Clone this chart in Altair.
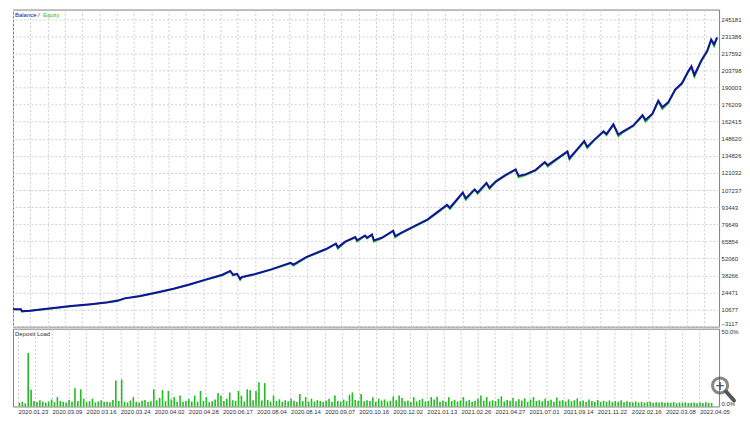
import altair as alt
import pandas as pd

# ---------------- data ----------------
trade_idx = [0, 16, 18, 34, 73, 117, 158, 192, 212, 226, 257, 291, 325, 357, 390, 424,
             440, 446, 454, 460, 463, 475, 489, 523, 562, 568, 594, 634, 654, 658, 673,
             693, 697, 713, 717, 727, 731, 747, 770, 774, 786, 812, 840, 860, 879, 885,
             911, 917, 935, 941, 959, 965, 978, 998, 1018, 1024, 1038, 1058, 1077, 1083,
             1097, 1123, 1127, 1143, 1157, 1163, 1176, 1196, 1202, 1216, 1226, 1236, 1256,
             1275, 1281, 1295, 1307, 1315, 1327, 1341, 1355, 1367, 1374, 1380, 1394, 1406,
             1414, 1420, 1426]
balance = [10941, 10941, 9380, 9770, 11488, 13518, 15079, 16641, 17968, 19764, 21638,
           24449, 27572, 31008, 34912, 38816, 41939, 38816, 39596, 35380, 36942, 38035,
           39284, 43188, 48419, 47092, 53104, 59585, 64035, 60912, 65597, 69267, 66612,
           70516, 68720, 71297, 66612, 68720, 74420, 70048, 72624, 77856, 83555, 89568,
           95267, 92925, 105184, 100499, 107760, 105184, 112992, 109088, 114243, 119472,
           123923, 118691, 119863, 123376, 129857, 127280, 131184, 138446, 132980, 140320,
           146800, 142115, 147347, 154608, 152500, 160308, 152032, 154608, 159293, 167648,
           163744, 168897, 179360, 174128, 178032, 188417, 193648, 202784, 207156, 200129,
           211841, 219649, 228784, 224880, 230580]
equity = [10941, 10700, 9100, 9650, 11300, 13300, 14900, 16400, 17500, 19600, 21300,
          24200, 27300, 30600, 34600, 38300, 41500, 38200, 39300, 34600, 36500, 37700,
          39000, 42800, 48000, 46000, 52700, 59100, 63700, 59800, 65200, 68700, 65600,
          70100, 67900, 70800, 65300, 68200, 73900, 68900, 72100, 77300, 83000, 88900,
          94700, 91800, 104600, 99200, 107200, 104000, 112400, 107900, 113700, 118900,
          123300, 117400, 119200, 122700, 129200, 126000, 130500, 137800, 131700, 139600,
          146100, 140900, 146700, 153900, 151300, 159600, 150600, 153900, 158600, 166900,
          162300, 168100, 178600, 172500, 177200, 187600, 192800, 202000, 206300, 198600,
          211000, 218800, 227900, 223200, 229800]

deposit_load = [
    2.5, 3.0, 2.0, 34.4, 10.7, 3.5, 2.8, 4.0, 3.0, 2.5,
    3.2, 4.5, 2.8, 6.0, 3.5, 3.0, 2.5, 4.2, 3.1, 11.7,
    3.5, 11.0, 5.0, 2.8, 3.4, 5.0, 2.6, 3.2, 4.0, 2.9,
    3.1, 2.7, 4.2, 16.7, 3.5, 17.3, 3.0, 2.6, 3.8, 6.0,
    3.0, 2.5, 3.6, 4.1, 2.8, 3.3, 11.0, 4.0, 5.5, 10.5,
    3.4, 10.0, 4.5, 6.0, 3.0, 7.0, 2.9, 3.5, 4.8, 3.2,
    7.0, 3.1, 10.0, 3.6, 6.0, 2.8, 3.3, 4.4, 8.6, 7.0,
    3.5, 5.0, 9.0, 4.0, 3.6, 10.0, 7.0, 3.2, 11.0, 10.5,
    4.0, 10.0, 15.5, 3.8, 15.0, 4.2, 3.1, 7.0, 3.5, 4.6,
    3.0, 4.0, 3.3, 5.0, 3.6, 2.9, 8.0, 3.4, 6.0, 3.1,
    5.0, 3.2, 4.1, 3.5, 2.8, 3.9, 5.0, 3.0, 7.0, 3.6,
    3.1, 4.4, 3.4, 7.5, 9.0, 4.2, 3.7, 8.0, 3.3, 4.0,
    3.5, 6.0, 3.0, 5.0, 3.8, 4.5, 3.1, 3.6, 6.5, 4.0,
    7.0, 5.5, 3.4, 3.9, 2.9, 6.0, 3.3, 4.1, 5.0, 3.2,
    3.6, 6.0, 4.5, 6.2, 3.1, 3.8, 3.0, 6.0, 3.5, 4.3,
    3.2, 3.9, 6.0, 3.4, 4.1, 3.0, 3.6, 5.0, 7.0, 3.7,
    6.0, 3.3, 4.0, 3.5, 4.8, 6.5, 3.2, 4.2, 3.6, 5.5,
    3.4, 4.6, 3.8, 5.2, 3.0, 4.4, 6.0, 3.5, 4.0, 3.3,
    5.0, 3.6, 4.3, 3.1, 5.8, 3.7, 4.1, 3.2, 4.6, 3.4,
    4.0, 5.2, 3.3, 3.8, 3.0, 4.5, 3.5, 3.1, 4.2, 2.9,
    3.6, 3.0, 3.9, 2.8, 3.4, 3.1, 4.0, 2.7, 3.3, 2.9,
    2.6, 3.2, 2.5, 3.0, 2.4, 2.8, 3.1, 2.3, 2.7, 2.5,
    2.9, 2.2, 2.6, 2.4, 2.8, 2.1, 2.5, 2.3, 2.7, 2.2,
    2.4, 2.6, 2.1, 2.5, 2.3, 2.7, 2.2, 2.4,
]
load_trade = [3 + 6 * i for i in range(len(deposit_load))]

date_labels = ["2020.01.23", "2020.03.09", "2020.03.16", "2020.03.24", "2020.04.02",
               "2020.04.28", "2020.06.17", "2020.08.04", "2020.08.14", "2020.09.07",
               "2020.10.16", "2020.12.02", "2021.01.13", "2021.02.26", "2021.04.27",
               "2021.07.01", "2021.09.14", "2021.11.22", "2022.02.16", "2022.03.08",
               "2022.04.05"]
y_ticks = [-3117, 10677, 24471, 38266, 52060, 65854, 79649, 93443, 107237, 121032,
           134826, 148620, 162415, 176209, 190003, 203798, 217592, 231386, 245181]
x_ticks = list(range(0, 1431, 35))

# ---------------- layout / style ----------------
W, H1, H2 = 708, 318, 78
FONT = "Liberation Sans"
BLUE, GREEN = "#12129c", "#2cc22c"
grid_kw = dict(gridColor="#cfcfcf", gridDash=[2, 2], gridWidth=1)

x_scale = alt.Scale(domain=[0, 1430], nice=False, zero=False)
y_scale = alt.Scale(domain=[-3117, 252989], nice=False, zero=False)

lines = pd.DataFrame({"trade": trade_idx, "Balance": balance, "Equity": equity})
long = lines.melt("trade", var_name="series", value_name="value")

top_x = alt.X("trade:Q", scale=x_scale,
              axis=alt.Axis(values=x_ticks, labels=False, ticks=False, domain=False,
                            grid=True, title=None, **grid_kw))
top_y = alt.Y("value:Q", scale=y_scale,
              axis=alt.Axis(orient="right", values=y_ticks, format="d", labelFontSize=6,
                            labelFont=FONT, labelColor="#333333", ticks=False, domain=False,
                            grid=True, title=None, labelPadding=2, labelFlush=True,
                            **grid_kw))

base = alt.Chart(long)
eq_line = base.transform_filter("datum.series == 'Equity'").mark_line(
    color=GREEN, strokeWidth=1.6).encode(x=top_x, y=top_y)
bal_line = base.transform_filter("datum.series == 'Balance'").mark_line(
    color=BLUE, strokeWidth=2).encode(x=top_x, y=top_y)

legend_df = pd.DataFrame({"t": ["Balance", "/", "Equity"],
                          "c": [BLUE, "#333333", GREEN]})
txt_bal = alt.Chart(legend_df.iloc[[0]]).mark_text(
    align="left", baseline="top", fontSize=6, font=FONT, color=BLUE).encode(
    text="t:N", x=alt.value(2), y=alt.value(2))
txt_sl = alt.Chart(legend_df.iloc[[1]]).mark_text(
    align="left", baseline="top", fontSize=6, font=FONT, color="#333333").encode(
    text="t:N", x=alt.value(25), y=alt.value(2))
txt_eq = alt.Chart(legend_df.iloc[[2]]).mark_text(
    align="left", baseline="top", fontSize=6, font=FONT, color=GREEN).encode(
    text="t:N", x=alt.value(30), y=alt.value(2))

top = alt.layer(eq_line, bal_line, txt_bal, txt_sl, txt_eq).properties(width=W, height=H1)

# bottom panel
load_df = pd.DataFrame({"trade": load_trade, "load": deposit_load})
label_expr = ("datum.value % 70 == 0 ? [" + ",".join(f"'{d}'" for d in date_labels)
              + "][datum.value / 70] : ''")
bot_x = alt.X("trade:Q", scale=x_scale,
              axis=alt.Axis(values=x_ticks, labelExpr=label_expr, labelAlign="left",
                            labelFontSize=6, labelFont=FONT, labelColor="#333333",
                            labelFlush=False, labelOverlap=False, labelPadding=2,
                            ticks=False, domain=False, grid=True, title=None, **grid_kw))
bot_y = alt.Y("load:Q", scale=alt.Scale(domain=[0, 50], nice=False),
              axis=alt.Axis(orient="right", values=[0, 50],
                            labelExpr="format(datum.value, '.1f') + '%'",
                            labelFontSize=6, labelFont=FONT, labelColor="#333333",
                            ticks=False, domain=False, grid=False, title=None,
                            labelPadding=2, labelFlush=True))
bars = alt.Chart(load_df).mark_bar(color="#22bb22", width=1.6).encode(x=bot_x, y=bot_y)

dl_text = alt.Chart(pd.DataFrame({"t": ["Deposit Load"]})).mark_text(
    align="left", baseline="top", fontSize=6, font=FONT, color="#333333").encode(
    text="t:N", x=alt.value(2), y=alt.value(2))

icon_df = pd.DataFrame({"a": [0]})
icon_ring = alt.Chart(icon_df).mark_point(
    shape="circle", filled=False, size=230, stroke="#555555", strokeWidth=3).encode(
    x=alt.value(W + 1), y=alt.value(57))
icon_plus = alt.Chart(pd.DataFrame({"t": ["+"]})).mark_text(
    fontSize=12, fontWeight="bold", color="#555555", font="DejaVu Sans").encode(
    text="t:N", x=alt.value(W + 1), y=alt.value(57))
icon_handle = alt.Chart(icon_df).mark_rule(
    stroke="#555555", strokeWidth=4, strokeCap="round").encode(
    x=alt.value(W + 7), x2=alt.value(W + 15), y=alt.value(63), y2=alt.value(72))

bottom = alt.layer(bars, dl_text, icon_ring, icon_plus, icon_handle).properties(
    width=W, height=H2)

chart = alt.vconcat(top, bottom, spacing=0).properties(
    padding={"left": 0, "top": 0, "right": 0, "bottom": 0},
    background="white",
).configure_view(stroke="#808080", strokeWidth=1)

chart.save("out.html", embed_options={"renderer": "svg", "actions": False})
